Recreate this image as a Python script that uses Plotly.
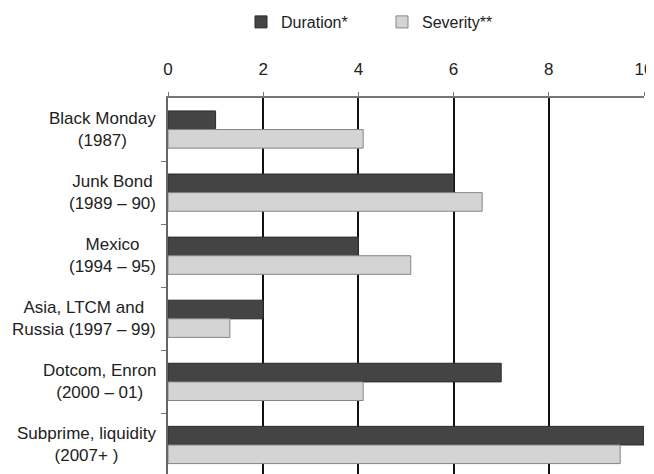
import plotly.graph_objects as go

categories = [
    "Black Monday<br>(1987)",
    "Junk Bond<br>(1989 – 90)",
    "Mexico<br>(1994 – 95)",
    "Asia, LTCM and<br>Russia (1997 – 99)",
    "Dotcom, Enron<br>(2000 – 01)",
    "Subprime, liquidity<br>(2007+ )",
]
duration = [1, 6, 4, 2, 7, 10]
severity = [4.1, 6.6, 5.1, 1.3, 4.1, 9.5]
x_ticks = [0, 2, 4, 6, 8, 10]

FONT = "Liberation Sans, Arial, sans-serif"
ypos = list(range(len(categories)))

# page body has an 8px margin, so the figure is sized to fit the remaining window
W, H = 646, 466

fig = go.Figure()
fig.add_trace(go.Bar(
    y=ypos, x=duration, orientation="h", name="Duration*",
    marker=dict(color="#444444", line=dict(color="#2a2a2a", width=1)),
))
fig.add_trace(go.Bar(
    y=ypos, x=severity, orientation="h", name="Severity**",
    marker=dict(color="#d4d4d4", line=dict(color="#858585", width=1)),
))

for i, c in enumerate(categories):
    fig.add_annotation(
        x=0, xref="paper", y=i, yref="y", text=c, showarrow=False,
        xanchor="right", align="center", xshift=-10,
        font=dict(family=FONT, size=17, color="#222222"),
    )

fig.update_layout(
    width=W, height=H,
    margin=dict(l=160, r=10, t=90, b=0),
    paper_bgcolor="white", plot_bgcolor="white",
    barmode="group", bargap=0.41, bargroupgap=0,
    font=dict(family=FONT, size=16, color="#222222"),
    legend=dict(
        orientation="h", xref="container", yref="container",
        x=233 / W, y=1 - 14 / H, xanchor="left", yanchor="middle",
        font=dict(family=FONT, size=16, color="#222222"),
        entrywidth=96, entrywidthmode="pixels",
        bgcolor="rgba(0,0,0,0)",
    ),
    showlegend=True,
)
fig.update_xaxes(
    side="top", range=[0, 10], tickvals=x_ticks,
    showgrid=True, gridcolor="#111111", gridwidth=1.5,
    zeroline=False, showline=True, linecolor="#777777", linewidth=1.5,
    ticks="outside", ticklen=4, tickcolor="#777777",
    tickfont=dict(family=FONT, size=17, color="#222222"),
    ticklabelstandoff=10,
)
fig.update_yaxes(
    range=[5.46, -0.5], tickvals=[i + 0.5 for i in ypos], ticktext=[""] * len(ypos),
    showgrid=False, zeroline=False, showline=True, linecolor="#666666", linewidth=1.5,
    ticks="outside", ticklen=5, tickcolor="#777777",
)

fig.write_html("out.html")
